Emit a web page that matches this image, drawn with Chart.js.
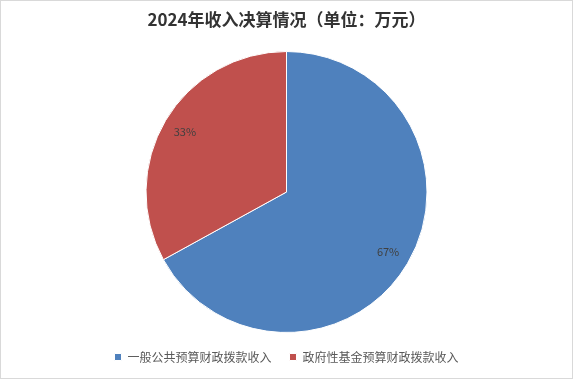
<!DOCTYPE html>
<html>
<head>
<meta charset="utf-8">
<script src="https://cdn.jsdelivr.net/npm/chart.js@4/dist/chart.umd.min.js"></script>
<style>
    body { margin: 0; background: #fff; }
    #wrap { width: 573px; height: 379px; box-sizing: border-box; border: 1px solid #d9d9d9; }
    canvas { display: block; }
</style>
</head>
<body>
<div id="wrap"><canvas id="myPieChart" width="571" height="377"></canvas></div>
<script>
// Chart data
const categories = ['一般公共预算财政拨款收入', '政府性基金预算财政拨款收入'];
const values = [67, 33];
const sliceColors = ['#4F81BD', '#C0504D'];
const chartTitle = '2024年收入决算情况（单位：万元）';

const fontFamily = '"Noto Sans CJK SC", "Microsoft YaHei", sans-serif';

// draws the percentage inside each slice
const percentLabels = {
    id: 'percentLabels',
    afterDatasetsDraw(chart) {
        const ctx = chart.ctx;
        const data = chart.data.datasets[0].data;
        const total = data.reduce((acc, v) => acc + v, 0);
        chart.getDatasetMeta(0).data.forEach(function (arc, i) {
            const mid = (arc.startAngle + arc.endAngle) / 2;
            const r = arc.outerRadius * 0.84;
            const x = arc.x + Math.cos(mid) * r;
            const y = arc.y + Math.sin(mid) * r;
            ctx.save();
            ctx.font = '11px ' + fontFamily;
            ctx.fillStyle = '#404040';
            ctx.textAlign = 'center';
            ctx.textBaseline = 'middle';
            ctx.fillText(Math.round(data[i] / total * 100) + '%', x, y);
            ctx.restore();
        });
    }
};

const ctxPie = document.getElementById('myPieChart').getContext('2d');
new Chart(ctxPie, {
    type: 'pie',
    data: {
        labels: categories,
        datasets: [{
            data: values,
            backgroundColor: sliceColors,
            borderColor: '#ffffff',
            borderWidth: 1
        }]
    },
    options: {
        responsive: false,
        animation: false,
        layout: { padding: { bottom: 5 } },
        plugins: {
            title: {
                display: true,
                text: chartTitle,
                color: '#333333',
                font: { family: fontFamily, size: 17, weight: 'bold' },
                padding: { top: 8.8, bottom: 20.8 }
            },
            legend: {
                position: 'bottom',
                labels: {
                    boxWidth: 7,
                    boxHeight: 7,
                    padding: 18,
                    color: '#595959',
                    font: { family: fontFamily, size: 12 }
                }
            },
            tooltip: { enabled: false }
        }
    },
    plugins: [percentLabels]
});
</script>
</body>
</html>
